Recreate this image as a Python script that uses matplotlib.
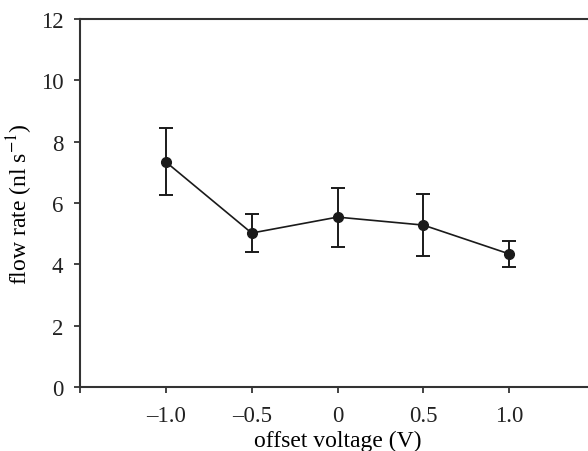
import matplotlib
matplotlib.use("Agg")
import matplotlib.pyplot as plt

voltage = [-1.0, -0.5, 0.0, 0.5, 1.0]
flow = [7.34, 5.02, 5.54, 5.28, 4.34]
err = [1.09, 0.63, 0.96, 1.0, 0.42]
xticks = [-1.5, -1.0, -0.5, 0.0, 0.5, 1.0, 1.5]
xticklabels = ["", "\u20131.0", "\u20130.5", "0", "0.5", "1.0", ""]
yticks = [0, 2, 4, 6, 8, 10, 12]

plt.rcParams['font.family'] = ['Liberation Serif', 'DejaVu Serif']
plt.rcParams['mathtext.fontset'] = 'stix'

fig = plt.figure(figsize=(5.88, 4.52), dpi=100)
ax = fig.add_axes([80/588, 1-388/452, 515/588, 368/452])

ax.errorbar(voltage, flow, yerr=err, color='#1a1a1a', marker='o', markersize=7,
            linewidth=1.2, elinewidth=1.4, capsize=5, capthick=1.4)

ax.set_xlim(-1.5, 1.5)
ax.set_ylim(0, 12)
ax.set_xticks(xticks)
ax.set_xticklabels(xticklabels)
ax.set_yticks(yticks)
ax.tick_params(direction='out', length=4, width=1.2, labelsize=16.5, colors='#222222')
ax.tick_params(axis='x', pad=9)
ax.tick_params(axis='y', pad=8)
for s in ax.spines.values():
    s.set_linewidth(1.5)
    s.set_color('#333333')

ax.set_xlabel('offset voltage (V)', fontsize=17, labelpad=3)
ax.set_ylabel('flow rate (nl s$^{-1}$)', fontsize=17, labelpad=4)

fig.savefig('out.png', dpi=100)
